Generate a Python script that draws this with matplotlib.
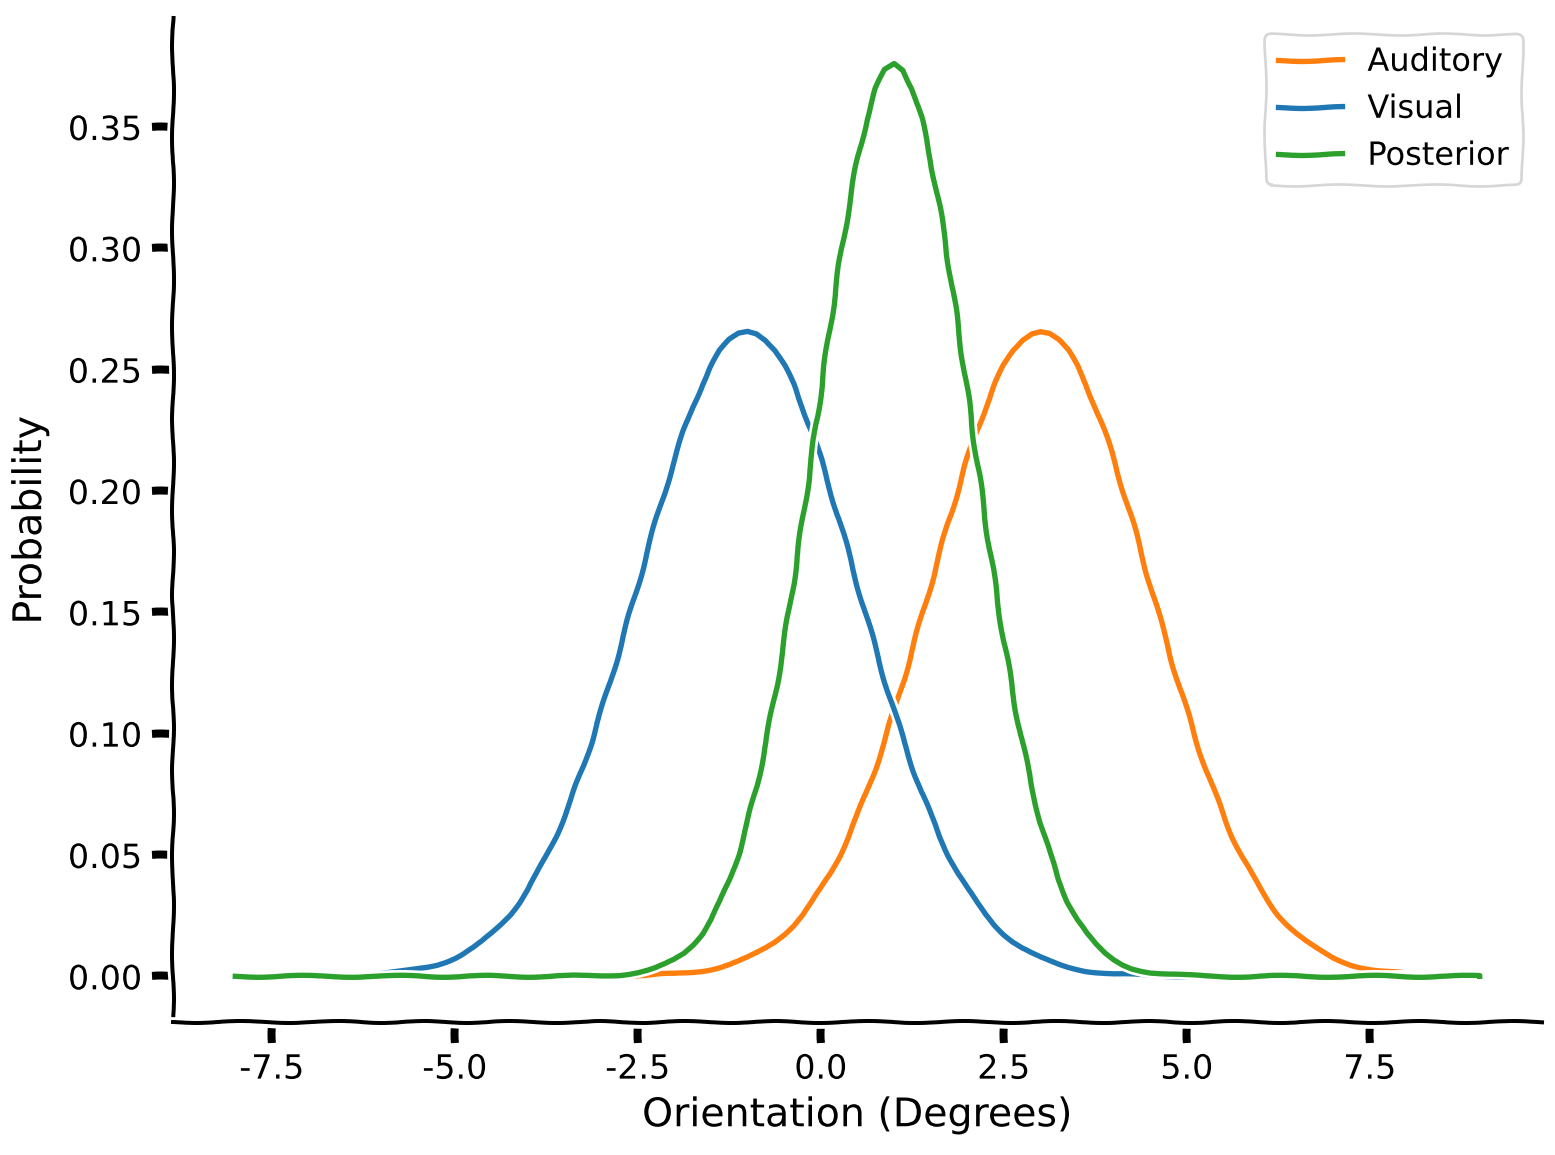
import matplotlib
matplotlib.use("Agg")
import matplotlib.pyplot as plt

x = [-8.0, -7.875, -7.75, -7.625, -7.5, -7.375, -7.25, -7.125,
     -7.0, -6.875, -6.75, -6.625, -6.5, -6.375, -6.25, -6.125,
     -6.0, -5.875, -5.75, -5.625, -5.5, -5.375, -5.25, -5.125,
     -5.0, -4.875, -4.75, -4.625, -4.5, -4.375, -4.25, -4.125,
     -4.0, -3.875, -3.75, -3.625, -3.5, -3.375, -3.25, -3.125,
     -3.0, -2.875, -2.75, -2.625, -2.5, -2.375, -2.25, -2.125,
     -2.0, -1.875, -1.75, -1.625, -1.5, -1.375, -1.25, -1.125,
     -1.0, -0.875, -0.75, -0.625, -0.5, -0.375, -0.25, -0.125,
     0.0, 0.125, 0.25, 0.375, 0.5, 0.625, 0.75, 0.875,
     1.0, 1.125, 1.25, 1.375, 1.5, 1.625, 1.75, 1.875,
     2.0, 2.125, 2.25, 2.375, 2.5, 2.625, 2.75, 2.875,
     3.0, 3.125, 3.25, 3.375, 3.5, 3.625, 3.75, 3.875,
     4.0, 4.125, 4.25, 4.375, 4.5, 4.625, 4.75, 4.875,
     5.0, 5.125, 5.25, 5.375, 5.5, 5.625, 5.75, 5.875,
     6.0, 6.125, 6.25, 6.375, 6.5, 6.625, 6.75, 6.875,
     7.0, 7.125, 7.25, 7.375, 7.5, 7.625, 7.75, 7.875,
     8.0, 8.125, 8.25, 8.375, 8.5, 8.625, 8.75, 8.875,
     9.0]

auditory = [0, 0, 0, 0, 0, 0, 0, 0,
            0, 0, 0, 0, 0, 0, 0, 0,
            0, 0, 0, 0, 0, 0, 0, 0,
            0, 0, 0, 0, 0, 0, 0, 0,
            0, 0, 0, 0, 0, 0, 0, 0,
            0.0001, 0.0001, 0.0002, 0.0002, 0.0003, 0.0004, 0.0006, 0.0008,
            0.0010, 0.0014, 0.0018, 0.0023, 0.0030, 0.0038, 0.0048, 0.0061,
            0.0076, 0.0095, 0.0117, 0.0143, 0.0175, 0.0212, 0.0254, 0.0304,
            0.0360, 0.0424, 0.0496, 0.0575, 0.0663, 0.0759, 0.0864, 0.0975,
            0.1094, 0.1218, 0.1347, 0.1479, 0.1613, 0.1747, 0.1880, 0.2008,
            0.2130, 0.2244, 0.2347, 0.2439, 0.2516, 0.2578, 0.2623, 0.2651,
            0.2660, 0.2651, 0.2623, 0.2578, 0.2516, 0.2439, 0.2347, 0.2244,
            0.2130, 0.2008, 0.1880, 0.1747, 0.1613, 0.1479, 0.1347, 0.1218,
            0.1094, 0.0975, 0.0864, 0.0759, 0.0663, 0.0575, 0.0496, 0.0424,
            0.0360, 0.0304, 0.0254, 0.0212, 0.0175, 0.0143, 0.0117, 0.0095,
            0.0076, 0.0061, 0.0048, 0.0038, 0.0030, 0.0023, 0.0018, 0.0014,
            0.0010, 0.0008, 0.0006, 0.0004, 0.0003, 0.0002, 0.0002, 0.0001,
            0.0001]

visual = [0, 0, 0, 0, 0, 0, 0, 0,
          0.0001, 0.0001, 0.0002, 0.0002, 0.0003, 0.0004, 0.0006, 0.0008,
          0.0010, 0.0014, 0.0018, 0.0023, 0.0030, 0.0038, 0.0048, 0.0061,
          0.0076, 0.0095, 0.0117, 0.0143, 0.0175, 0.0212, 0.0254, 0.0304,
          0.0360, 0.0424, 0.0496, 0.0575, 0.0663, 0.0759, 0.0864, 0.0975,
          0.1094, 0.1218, 0.1347, 0.1479, 0.1613, 0.1747, 0.1880, 0.2008,
          0.2130, 0.2244, 0.2347, 0.2439, 0.2516, 0.2578, 0.2623, 0.2651,
          0.2660, 0.2651, 0.2623, 0.2578, 0.2516, 0.2439, 0.2347, 0.2244,
          0.2130, 0.2008, 0.1880, 0.1747, 0.1613, 0.1479, 0.1347, 0.1218,
          0.1094, 0.0975, 0.0864, 0.0759, 0.0663, 0.0575, 0.0496, 0.0424,
          0.0360, 0.0304, 0.0254, 0.0212, 0.0175, 0.0143, 0.0117, 0.0095,
          0.0076, 0.0061, 0.0048, 0.0038, 0.0030, 0.0023, 0.0018, 0.0014,
          0.0010, 0.0008, 0.0006, 0.0004, 0.0003, 0.0002, 0.0002, 0.0001,
          0.0001, 0, 0, 0, 0, 0, 0, 0,
          0, 0, 0, 0, 0, 0, 0, 0,
          0, 0, 0, 0, 0, 0, 0, 0,
          0, 0, 0, 0, 0, 0, 0, 0,
          0]

posterior = [0, 0, 0, 0, 0, 0, 0, 0,
             0, 0, 0, 0, 0, 0, 0, 0,
             0, 0, 0, 0, 0, 0, 0, 0,
             0, 0, 0, 0, 0, 0, 0, 0,
             0, 0, 0, 0, 0, 0.0001, 0.0001, 0.0002,
             0.0003, 0.0005, 0.0007, 0.0011, 0.0016, 0.0024, 0.0034, 0.0049,
             0.0069, 0.0095, 0.0131, 0.0176, 0.0234, 0.0307, 0.0396, 0.0505,
             0.0636, 0.0788, 0.0964, 0.1163, 0.1384, 0.1623, 0.1878, 0.2143,
             0.2412, 0.2676, 0.2929, 0.3162, 0.3365, 0.3533, 0.3658, 0.3735,
             0.3761, 0.3735, 0.3658, 0.3533, 0.3365, 0.3162, 0.2929, 0.2676,
             0.2412, 0.2143, 0.1878, 0.1623, 0.1384, 0.1163, 0.0964, 0.0788,
             0.0636, 0.0505, 0.0396, 0.0307, 0.0234, 0.0176, 0.0131, 0.0095,
             0.0069, 0.0049, 0.0034, 0.0024, 0.0016, 0.0011, 0.0007, 0.0005,
             0.0003, 0.0002, 0.0001, 0.0001, 0, 0, 0, 0,
             0, 0, 0, 0, 0, 0, 0, 0,
             0, 0, 0, 0, 0, 0, 0, 0,
             0, 0, 0, 0, 0, 0, 0, 0,
             0]

series_names = ["Auditory", "Visual", "Posterior"]
series_colors = ["tab:orange", "tab:blue", "tab:green"]

DPI = 192
with plt.xkcd():
    plt.rcParams['font.family'] = ['DejaVu Sans']
    fig = plt.figure(figsize=(1555 / DPI, 1155 / DPI), dpi=DPI)
    ax = fig.add_axes([0.1113, 0.1152, 0.8803, 0.8692])
    for ys, name, c in zip([auditory, visual, posterior], series_names, series_colors):
        ax.plot(x, ys, color=c, label=name)
    ax.spines['top'].set_visible(False)
    ax.spines['right'].set_visible(False)
    ax.tick_params(labelsize=12.5)
    ax.set_xlabel("Orientation (Degrees)", fontsize=14.8)
    ax.set_ylabel("Probability", fontsize=14.8, labelpad=7)
    ax.legend(loc="upper right", fontsize=12, labelspacing=0.5,
              bbox_to_anchor=(0.997, 1.0))
    fig.savefig("out.png", dpi=DPI)
